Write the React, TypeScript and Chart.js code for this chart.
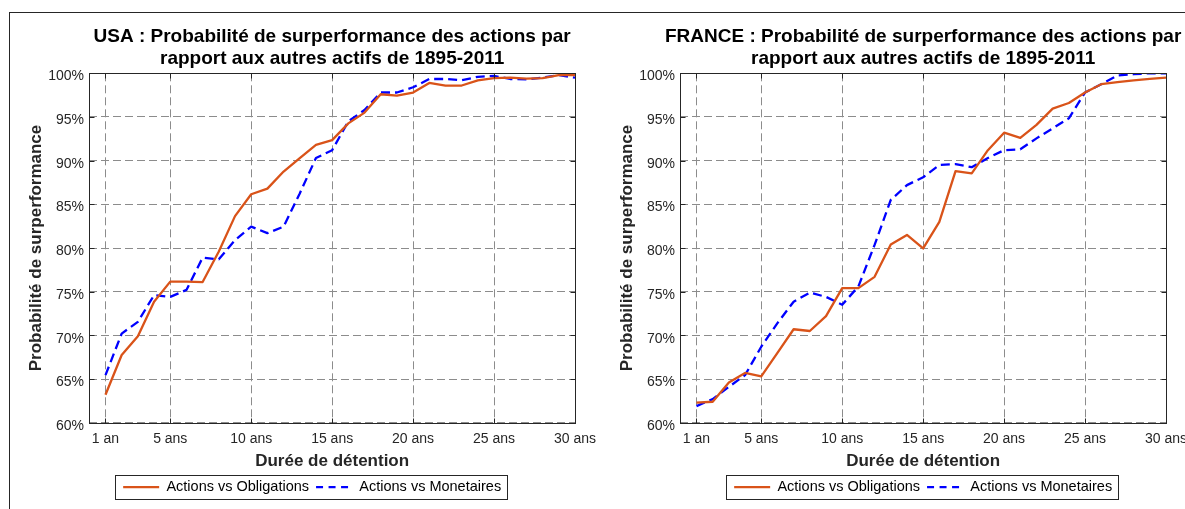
import React, { useEffect, useRef } from 'react';
import { Chart, registerables } from 'chart.js';

Chart.register(...registerables);

// ---------- data ----------
const years = [1, 2, 3, 4, 5, 6, 7, 8, 9, 10, 11, 12, 13, 14, 15, 16, 17, 18, 19, 20, 21, 22, 23, 24, 25, 26, 27, 28, 29, 30];
const xTickValues = [1, 5, 10, 15, 20, 25, 30];
const xTickLabels = ['1 an', '5 ans', '10 ans', '15 ans', '20 ans', '25 ans', '30 ans'];
const yTickValues = [60, 65, 70, 75, 80, 85, 90, 95, 100];
const yTickLabels = ['60%', '65%', '70%', '75%', '80%', '85%', '90%', '95%', '100%'];

const seriesLabels = ['Actions vs Obligations', 'Actions vs Monetaires'];

const usaTitle = ['USA : Probabilité de surperformance des actions par', 'rapport aux autres actifs de 1895-2011'];
const franceTitle = ['FRANCE : Probabilité de surperformance des actions par', 'rapport aux autres actifs de 1895-2011'];
const xTitle = 'Durée de détention';
const yTitle = 'Probabilité de surperformance';

const usaBonds = [63.2, 67.75, 69.9, 73.85, 76.15, 76.15, 76.1, 79.6, 83.65, 86.15, 86.8, 88.75, 90.3, 91.8, 92.35, 94.27, 95.5, 97.6, 97.45, 97.8, 98.9, 98.6, 98.6, 99.2, 99.45, 99.5, 99.4, 99.45, 99.8, 99.8];
const usaMoney = [65.45, 70.2, 71.55, 74.6, 74.4, 75.2, 78.9, 78.7, 80.9, 82.45, 81.7, 82.45, 86.25, 90.3, 91.2, 94.5, 95.8, 97.8, 97.8, 98.4, 99.35, 99.35, 99.2, 99.6, 99.7, 99.35, 99.3, 99.5, 99.8, 99.5];
const franceBonds = [62.3, 62.4, 64.6, 65.7, 65.3, 68.0, 70.7, 70.5, 72.2, 75.4, 75.4, 76.7, 80.4, 81.5, 79.95, 83.0, 88.8, 88.55, 91.2, 93.2, 92.6, 94.1, 95.95, 96.6, 97.8, 98.75, 99.0, 99.2, 99.35, 99.5];
const franceMoney = [61.9, 62.7, 64.1, 65.45, 68.7, 71.4, 73.85, 74.9, 74.4, 73.5, 75.6, 80.35, 85.5, 87.2, 88.1, 89.5, 89.6, 89.25, 90.3, 91.2, 91.3, 92.55, 93.7, 94.85, 97.8, 98.75, 99.75, 99.9, 100, 100];

// ---------- style ----------
const FONT = "'Liberation Sans', Arial, Helvetica, sans-serif";
const AXIS = '#262626';
const GRID = '#8c8c8c';
const ORANGE = '#D95319';
const BLUE = '#0000FF';
const CANVAS_W = 620;
const CANVAS_H = 509;

function makeConfig(title: string[], bonds: number[], money: number[], legendShift: number): any {
  const framePlugin = {
    id: 'matlabFrame',
    afterLayout(chart: any) {
      const a = chart.chartArea;
      const c = (a.left + a.right) / 2;
      const t = chart.titleBlock;
      if (t) {
        t.left = c - 300;
        t.right = c + 300;
        t.width = 600;
      }
      const l = chart.legend;
      if (l) {
        l.left += legendShift;
        l.right += legendShift;
      }
    },
    afterDatasetsDraw(chart: any) {
      const { ctx, chartArea: a, scales } = chart;
      ctx.save();
      ctx.strokeStyle = AXIS;
      ctx.lineWidth = 1;
      ctx.setLineDash([]);
      const L = Math.round(a.left) + 0.5;
      const R = Math.round(a.right) + 0.5;
      const T = Math.round(a.top) + 0.5;
      const B = Math.round(a.bottom) + 0.5;
      ctx.beginPath();
      for (const v of xTickValues) {
        const x = Math.round(scales.x.getPixelForValue(v)) + 0.5;
        ctx.moveTo(x, B);
        ctx.lineTo(x, B - 5);
        ctx.moveTo(x, T);
        ctx.lineTo(x, T + 5);
      }
      for (const v of yTickValues) {
        const y = Math.round(scales.y.getPixelForValue(v)) + 0.5;
        ctx.moveTo(L, y);
        ctx.lineTo(L + 5, y);
        ctx.moveTo(R, y);
        ctx.lineTo(R - 5, y);
      }
      ctx.stroke();
      ctx.strokeRect(L, T, R - L, B - T);
      ctx.restore();
    },
    afterDraw(chart: any) {
      const lg = chart.legend;
      if (!lg || !lg.legendHitBoxes || !lg.legendHitBoxes.length) return;
      const hb = lg.legendHitBoxes;
      const first = hb[0];
      const last = hb[hb.length - 1];
      const cy = first.top + first.height / 2;
      const left = Math.round(first.left - 7.7) + 0.5;
      const right = Math.round(last.left + last.width + 6) + 0.5;
      const top = Math.round(cy - 12) + 0.5;
      const bottom = Math.round(cy + 12) + 0.5;
      const ctx = chart.ctx;
      ctx.save();
      ctx.strokeStyle = AXIS;
      ctx.lineWidth = 1;
      ctx.setLineDash([]);
      ctx.strokeRect(left, top, right - left, bottom - top);
      ctx.restore();
    },
  };

  return {
    type: 'line',
    data: {
      datasets: [
        {
          label: seriesLabels[0],
          data: years.map((x, i) => ({ x, y: bonds[i] })),
          borderColor: ORANGE,
          backgroundColor: ORANGE,
          borderWidth: 2.3,
          pointRadius: 0,
          tension: 0,
          borderJoinStyle: 'round',
          fill: false,
        },
        {
          label: seriesLabels[1],
          data: years.map((x, i) => ({ x, y: money[i] })),
          borderColor: BLUE,
          backgroundColor: BLUE,
          borderWidth: 2.3,
          borderDash: [9, 5],
          pointRadius: 0,
          tension: 0,
          borderJoinStyle: 'round',
          fill: false,
        },
      ],
    },
    options: {
      responsive: false,
      animation: false,
      events: [],
      devicePixelRatio: 1,
      layout: { padding: { left: 0, right: CANVAS_W - 575, top: 0, bottom: 4.55 } },
      scales: {
        x: {
          type: 'linear',
          min: 0,
          max: 30,
          afterBuildTicks(s: any) {
            s.ticks = xTickValues.map((v) => ({ value: v }));
          },
          afterFit(s: any) {
            s.height = 50.25;
            s.paddingLeft = 0;
            s.paddingRight = 0;
          },
          ticks: {
            autoSkip: false,
            maxRotation: 0,
            minRotation: 0,
            padding: 7.6,
            color: AXIS,
            font: { family: FONT, size: 14 },
            callback: (v: number) => {
              const i = xTickValues.indexOf(v);
              return i >= 0 ? xTickLabels[i] : '';
            },
          },
          grid: { color: GRID, lineWidth: 1, drawTicks: false },
          border: { display: false, dash: [8, 4] },
          title: {
            display: true,
            text: xTitle,
            color: AXIS,
            font: { family: FONT, size: 17, weight: 'bold', lineHeight: 1.2 },
            padding: { top: 0, bottom: 1.05 },
          },
        },
        y: {
          type: 'linear',
          min: 60,
          max: 100,
          afterBuildTicks(s: any) {
            s.ticks = yTickValues.map((v) => ({ value: v }));
          },
          afterFit(s: any) {
            s.width = 89.3;
          },
          ticks: {
            autoSkip: false,
            padding: 5.3,
            labelOffset: 3.3,
            color: AXIS,
            font: { family: FONT, size: 14 },
            callback: (v: number) => {
              const i = yTickValues.indexOf(v);
              return i >= 0 ? yTickLabels[i] : '';
            },
          },
          grid: { color: GRID, lineWidth: 1, drawTicks: false },
          border: { display: false, dash: [8, 4] },
          title: {
            display: true,
            text: yTitle,
            color: AXIS,
            font: { family: FONT, size: 17, weight: 'bold', lineHeight: 1.2 },
            padding: { top: 26.3, bottom: 0 },
          },
        },
      },
      plugins: {
        tooltip: { enabled: false },
        title: {
          display: true,
          text: title,
          fullSize: false,
          color: '#000000',
          font: { family: FONT, size: 19, weight: 'bold', lineHeight: '22px' },
          padding: { top: 25.4, bottom: 3.9 },
        },
        legend: {
          display: true,
          position: 'bottom',
          align: 'center',
          fullSize: false,
          labels: {
            usePointStyle: true,
            pointStyle: 'line',
            pointStyleWidth: 36,
            padding: 7,
            color: '#000000',
            font: { family: FONT, size: 14.5 },
            generateLabels(chart: any) {
              const items = (Chart as any).defaults.plugins.legend.labels.generateLabels(chart);
              items.forEach((it: any) => {
                const ds = chart.data.datasets[it.datasetIndex];
                it.lineDash = ds.borderDash ? [7, 5.5] : [];
                it.lineWidth = ds.borderWidth;
                it.strokeStyle = ds.borderColor;
                it.fillStyle = ds.borderColor;
                it.lineCap = 'butt';
              });
              return items;
            },
          },
        },
      },
    },
    plugins: [framePlugin],
  };
}

function ChartCanvas(props: { title: string[]; bonds: number[]; money: number[]; left: number; legendShift: number }) {
  const ref = useRef<HTMLCanvasElement | null>(null);
  useEffect(() => {
    if (!ref.current) return;
    Chart.defaults.font.family = FONT;
    const chart = new Chart(ref.current, makeConfig(props.title, props.bonds, props.money, props.legendShift));
    return () => chart.destroy();
  }, []);
  return (
    <canvas
      ref={ref}
      width={CANVAS_W}
      height={CANVAS_H}
      style={{ position: 'absolute', left: props.left, top: 0, width: CANVAS_W, height: CANVAS_H }}
    />
  );
}

export default function App() {
  return (
    <div
      style={{
        position: 'fixed',
        left: 0,
        top: 0,
        width: 1185,
        height: 509,
        overflow: 'hidden',
        background: '#ffffff',
      }}
    >
      <div
        style={{
          position: 'absolute',
          left: 9,
          top: 12,
          width: 1400,
          height: 700,
          borderLeft: '1px solid #262626',
          borderTop: '1px solid #262626',
          boxSizing: 'border-box',
        }}
      />
      <ChartCanvas title={usaTitle} bonds={usaBonds} money={usaMoney} left={0} legendShift={-20} />
      <ChartCanvas title={franceTitle} bonds={franceBonds} money={franceMoney} left={591} legendShift={0} />
    </div>
  );
}
